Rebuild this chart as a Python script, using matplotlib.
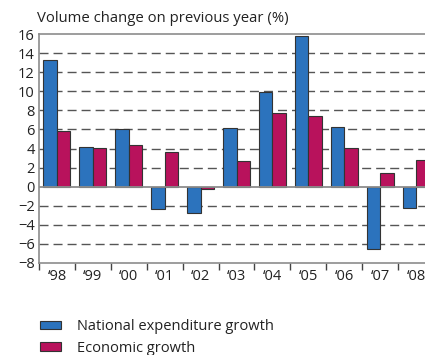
import matplotlib.pyplot as plt
import numpy as np
from matplotlib.patches import Patch

years = ["‘98", "‘99", "‘00", "‘01", "‘02", "‘03", "‘04", "‘05", "‘06", "‘07", "‘08"]
expenditure = [13.3, 4.2, 6.0, -2.35, -2.75, 6.1, 9.9, 15.8, 6.25, -6.5, -2.25]
economic = [5.8, 4.05, 4.4, 3.6, -0.25, 2.7, 7.7, 7.45, 4.05, 1.45, 2.8]

plt.rcParams["font.family"] = ["Open Sans", "DejaVu Sans"]

blue = "#2c73bd"
magenta = "#b8125c"
edge = "#333333"
axis_grey = "#8c8c8c"

fig = plt.figure(figsize=(4.25, 3.55), dpi=100)
# axes run a little past the right edge so the last group is cut off
ax = fig.add_axes([39 / 425, 92 / 355, 395 / 425, 229 / 355])

x = np.arange(len(years))
w = 0.375
ax.bar(x - w / 2, expenditure, w, color=blue, edgecolor=edge, linewidth=0.8, zorder=3)
ax.bar(x + w / 2, economic, w, color=magenta, edgecolor=edge, linewidth=0.8, zorder=3)

ax.set_xlim(-0.5, len(years) - 0.5)
ax.set_ylim(-8, 16)

# dashed guide lines, solid zero line
for v in [-6, -4, -2, 2, 4, 6, 8, 10, 12, 14]:
    ax.axhline(v, color="#555555", lw=1.0, linestyle=(0, (6.5, 3.6)), zorder=1)
ax.axhline(0, color=axis_grey, lw=1.3, zorder=4)

ax.set_yticks(np.arange(-8, 17, 2))
ax.tick_params(axis="y", length=0, labelsize=10.5, pad=3, colors="#222222")

# group boundaries carry the tick marks, centres carry the labels
ax.set_xticks(np.arange(-0.5, len(years), 1.0))
ax.set_xticklabels([])
ax.tick_params(axis="x", which="major", length=5, width=1, color="#444444", direction="out")
ax.set_xticks(x, minor=True)
ax.set_xticklabels(years, minor=True)
ax.tick_params(axis="x", which="minor", length=0, labelsize=10.5, pad=4, colors="#222222")

for side in ["left", "top", "bottom"]:
    ax.spines[side].set_color(axis_grey)
    ax.spines[side].set_linewidth(1.2)
ax.spines["right"].set_visible(False)

fig.text(37 / 425, 1 - 18 / 355, "Volume change on previous year (%)", fontsize=10.7,
         color="#222222", va="center", ha="left")

handles = [
    Patch(facecolor=blue, edgecolor=edge, linewidth=0.8, label="National expenditure growth"),
    Patch(facecolor=magenta, edgecolor=edge, linewidth=0.8, label="Economic growth"),
]
fig.legend(handles=handles, loc="upper left", bbox_to_anchor=(27 / 425, 1 - 306 / 355),
           frameon=False, fontsize=10.5, handlelength=1.45, handleheight=0.5,
           handletextpad=1.05, labelspacing=0.45, labelcolor="#222222")

fig.savefig("out.png", dpi=100)
